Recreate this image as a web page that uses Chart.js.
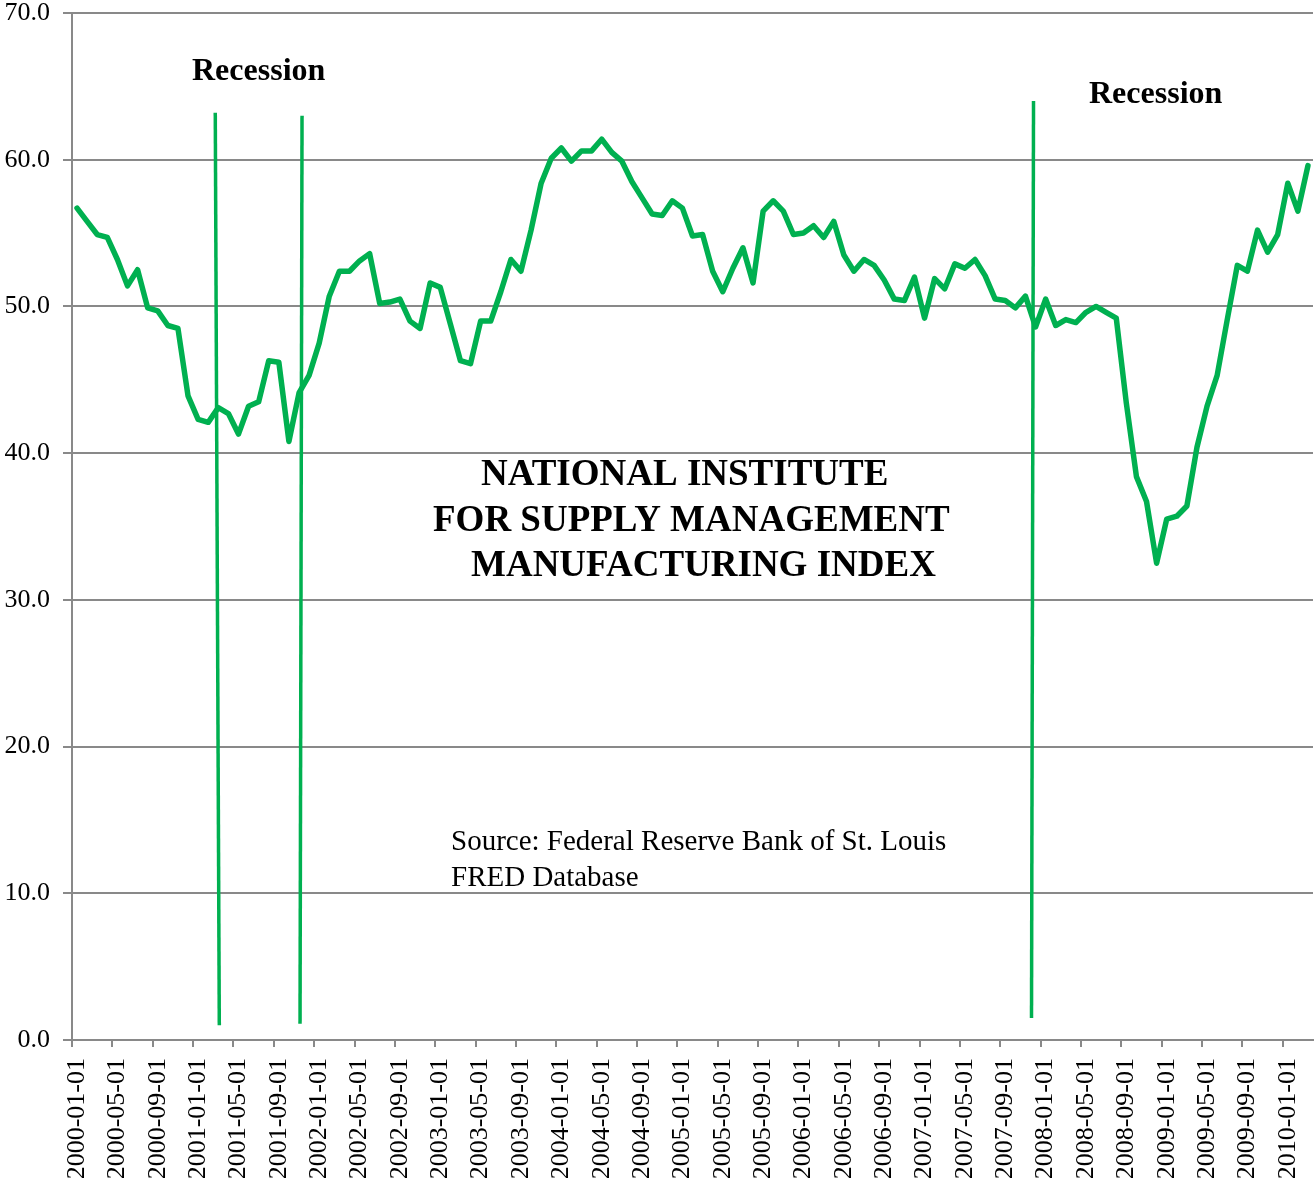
<!DOCTYPE html>
<html>
<head>
<meta charset="utf-8">
<script src="https://cdn.jsdelivr.net/npm/chart.js@4.4.1/dist/chart.umd.min.js"></script>
<style>
	html, body { margin: 0; padding: 0; background: #ffffff; }
	#wrap { width: 1314px; height: 1183px; }
</style>
</head>
<body>
<div id="wrap"><canvas id="ismChart" width="1314" height="1183"></canvas></div>
<script>
// monthly ISM manufacturing index, 2000-01 .. 2010-03
const months = [];
for (let y = 2000; y <= 2010; y++) {
	for (let m = 1; m <= 12; m++) {
		if (y === 2010 && m > 3) break;
		months.push(`${y}-${String(m).padStart(2, "0")}-01`);
	}
}

const ismValues = [
	56.7, 55.8, 54.9, 54.7, 53.2, 51.4, 52.5, 49.9, 49.7, 48.7, 48.5, 43.9,
	42.3, 42.1, 43.1, 42.7, 41.3, 43.2, 43.5, 46.3, 46.2, 40.8, 44.1, 45.3,
	47.5, 50.7, 52.4, 52.4, 53.1, 53.6, 50.2, 50.3, 50.5, 49.0, 48.5, 51.6,
	51.3, 48.8, 46.3, 46.1, 49.0, 49.0, 51.0, 53.2, 52.4, 55.2, 58.4, 60.1,
	60.8, 59.9, 60.6, 60.6, 61.4, 60.5, 59.9, 58.5, 57.4, 56.3, 56.2, 57.2,
	56.7, 54.8, 54.9, 52.4, 51.0, 52.6, 54.0, 51.6, 56.5, 57.2, 56.5, 54.9,
	55.0, 55.5, 54.7, 55.8, 53.5, 52.4, 53.2, 52.8, 51.8, 50.5, 50.4, 52.0,
	49.2, 51.9, 51.2, 52.9, 52.6, 53.2, 52.1, 50.5, 50.4, 49.9, 50.7, 48.6,
	50.5, 48.7, 49.1, 48.9, 49.6, 50.0, 49.6, 49.2, 43.4, 38.4, 36.7, 32.5,
	35.5, 35.7, 36.4, 40.4, 43.2, 45.3, 49.1, 52.8, 52.4, 55.2, 53.7, 54.9,
	58.4, 56.5, 59.6
];

const yTicks = [0, 10, 20, 30, 40, 50, 60, 70];
const labelEvery = 4;

// recession markers (hand drawn, slightly slanted in the original)
const recessionDates = ["2001-03-01", "2001-11-01", "2007-12-01"];
const recessionTopShift = [-0.3, 0.3, -0.2];
const recessionBottomShift = [0.1, 0.1, -0.4];
const recessionTop = [63.2, 63.0, 64.0];
const recessionBottom = [1.0, 1.1, 1.5];

const green = "#00b050";
const gridGrey = "#898989";
const serif = "'Liberation Serif', 'Times New Roman', serif";

const annotations = {
	id: "annotations",
	afterDatasetsDraw(chart) {
		const ctx = chart.ctx;
		const x = chart.scales.x;
		const y = chart.scales.y;

		ctx.save();
		// x tick marks sit on the month boundaries, one every 4 months
		ctx.strokeStyle = gridGrey;
		ctx.lineWidth = 2;
		const base = y.getPixelForValue(0);
		for (let i = 0; i < months.length; i += labelEvery) {
			const px = Math.round(x.getPixelForValue(i - 0.5));
			ctx.beginPath();
			ctx.moveTo(px, base);
			ctx.lineTo(px, base + 7);
			ctx.stroke();
		}

		ctx.strokeStyle = green;
		ctx.lineWidth = 3.5;
		for (let i = 0; i < recessionDates.length; i++) {
			const idx = months.indexOf(recessionDates[i]);
			ctx.beginPath();
			ctx.moveTo(x.getPixelForValue(idx + recessionTopShift[i]), y.getPixelForValue(recessionTop[i]));
			ctx.lineTo(x.getPixelForValue(idx + recessionBottomShift[i]), y.getPixelForValue(recessionBottom[i]));
			ctx.stroke();
		}

		ctx.fillStyle = "#000000";
		ctx.textBaseline = "alphabetic";
		ctx.textAlign = "left";

		ctx.font = `bold 32px ${serif}`;
		ctx.fillText("Recession", 192, 80);
		ctx.fillText("Recession", 1089, 103);

		ctx.font = `bold 37px ${serif}`;
		ctx.fillText("NATIONAL INSTITUTE", 481, 485);
		ctx.fillText("FOR SUPPLY MANAGEMENT", 433, 531);
		ctx.fillText("MANUFACTURING INDEX", 471, 576);

		ctx.font = `29px ${serif}`;
		ctx.fillText("Source: Federal Reserve Bank of St. Louis", 451, 850);
		ctx.fillText("FRED Database", 451, 886);
		ctx.restore();
	}
};

const chart = new Chart(document.getElementById("ismChart"), {
	type: "line",
	data: {
		labels: months,
		datasets: [{
			data: ismValues,
			borderColor: green,
			borderWidth: 5.5,
			borderCapStyle: "round",
			borderJoinStyle: "round",
			pointRadius: 0,
			tension: 0,
			fill: false
		}]
	},
	options: {
		responsive: false,
		animation: false,
		devicePixelRatio: 1,
		layout: { padding: { top: 13, right: 1, left: 0, bottom: 0 } },
		plugins: {
			legend: { display: false },
			tooltip: { enabled: false },
			title: { display: false }
		},
		scales: {
			x: {
				type: "category",
				offset: true,
				grid: {
					offset: true,
					display: false,
					drawOnChartArea: false,
					drawTicks: false
				},
				border: { display: true, color: gridGrey, width: 2 },
				ticks: {
					autoSkip: false,
					minRotation: 90,
					maxRotation: 90,
					padding: 18,
					color: "#000000",
					font: { family: serif, size: 26 },
					callback: (v, i) => (i % labelEvery === 0 ? months[i] : "")
				},
				afterFit: (scale) => {
					scale.height = 143;
					scale.paddingLeft = 0;
					scale.paddingRight = 0;
				}
			},
			y: {
				min: 0,
				max: 70,
				afterBuildTicks: (scale) => {
					scale.ticks = yTicks.map((v) => ({ value: v }));
				},
				grid: {
					color: gridGrey,
					lineWidth: 2,
					drawTicks: true,
					tickLength: 9
				},
				border: { display: true, color: gridGrey, width: 2 },
				ticks: {
					padding: 13,
					color: "#000000",
					font: { family: serif, size: 26 },
					callback: (v) => Number(v).toFixed(1)
				},
				afterFit: (scale) => {
					scale.width = 72;
					scale.paddingTop = 0;
					scale.paddingBottom = 0;
				}
			}
		}
	},
	plugins: [annotations]
});
</script>
</body>
</html>
